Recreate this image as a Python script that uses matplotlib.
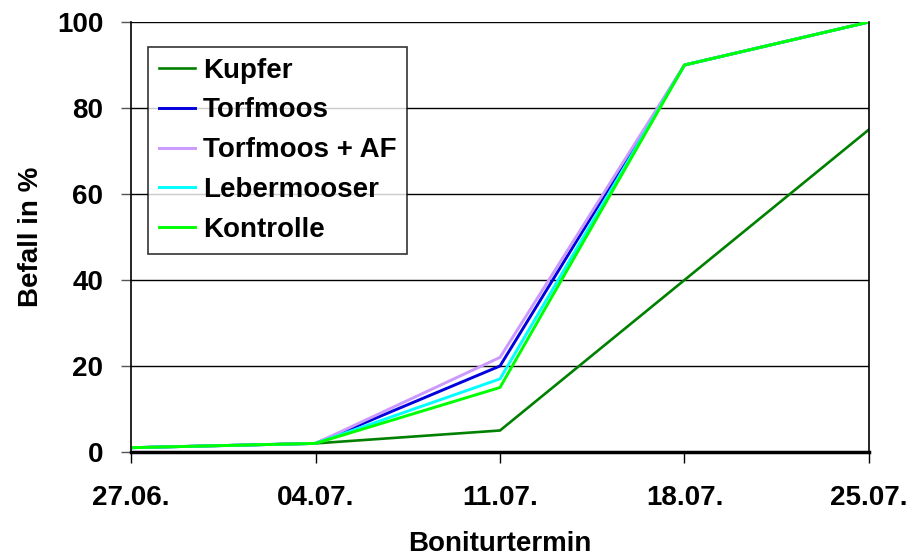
import matplotlib.pyplot as plt

plt.rcParams['font.family'] = ['Liberation Sans', 'DejaVu Sans']

# Boniturtermine und Befallswerte (%)
dates = ['27.06.', '04.07.', '11.07.', '18.07.', '25.07.']
kupfer = [1, 2, 5, 40, 75]
torfmoos = [1, 2, 20, 90, 100]
torfmoos_af = [1, 2, 22, 90, 100]
lebermooser = [1, 2, 17, 90, 100]
kontrolle = [1, 2, 15, 90, 100]

series = [
    ('Kupfer', kupfer, '#008000', 1.9),
    ('Torfmoos', torfmoos, '#0000DD', 2.1),
    ('Torfmoos + AF', torfmoos_af, '#CC99FF', 2.1),
    ('Lebermooser', lebermooser, '#00FFFF', 2.1),
    ('Kontrolle', kontrolle, '#00FF00', 2.1),
]

fig = plt.figure(figsize=(9.12, 5.55), dpi=100)
ax = fig.add_axes([131 / 912, 103 / 555, 738 / 912, 430 / 555])

x = list(range(len(dates)))
for name, vals, col, lw in series:
    ax.plot(x, vals, color=col, lw=lw, label=name)

ax.set_xlim(0, len(dates) - 1)
ax.set_ylim(0, 100)
ax.set_yticks(range(0, 101, 20))
ax.set_xticks(x)
ax.set_xticklabels(dates)
ax.yaxis.grid(True, color='black', lw=1)
ax.set_axisbelow(True)

ax.spines['top'].set_visible(False)
ax.spines['left'].set_linewidth(1.2)
ax.spines['right'].set_linewidth(1.2)
ax.spines['bottom'].set_linewidth(2.5)

ax.tick_params(axis='y', direction='out', length=7, width=1, color='#555555',
               labelsize=20, pad=13)
ax.tick_params(axis='x', direction='out', length=8, width=1,
               labelsize=20, pad=16)
for lab in ax.get_xticklabels() + ax.get_yticklabels():
    lab.set_fontweight('bold')

ax.set_xlabel('Boniturtermin', fontsize=20, fontweight='bold', labelpad=14)
ax.set_ylabel('Befall in %', fontsize=20, fontweight='bold', labelpad=9)

leg = ax.legend(loc='upper left', bbox_to_anchor=(17 / 738, 1 - 25 / 430),
                prop={'weight': 'bold', 'size': 20}, frameon=True,
                fancybox=False, edgecolor='black', handlelength=1.3,
                borderpad=0.38, labelspacing=0.5, handletextpad=0.3,
                borderaxespad=0)
leg.get_frame().set_linewidth(1.2)

fig.savefig('out.png', dpi=100)
